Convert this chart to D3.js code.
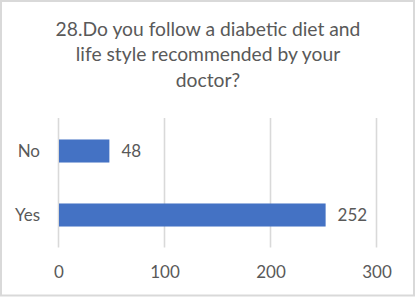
<!DOCTYPE html>
<html>
<head>
<meta charset="utf-8">
<script src="https://cdn.jsdelivr.net/npm/d3@7"></script>
<style>
  html, body { margin: 0; padding: 0; background: #fff; }
  svg { display: block; }
  text { font-family: Lato, "Open Sans", sans-serif; fill: #595959; }
</style>
</head>
<body>
<svg id="chart" width="415" height="297"></svg>
<script>
const categories = ["No", "Yes"];
const values = [48, 252];
const xTicks = [0, 100, 200, 300];
const titleLines = ["28.Do you follow a diabetic diet and", "life style recommended by your", "doctor?"];

const W = 415, H = 297;
const svg = d3.select("#chart");

svg.append("rect")
  .attr("x", 1).attr("y", 1).attr("width", W - 2).attr("height", H - 2.5)
  .attr("fill", "#fff").attr("stroke", "#d9d9d9").attr("stroke-width", 2);

// Title
const title = svg.append("text")
  .attr("text-anchor", "middle")
  .style("font-size", "18px");
titleLines.forEach((t, i) => {
  title.append("tspan").attr("x", W / 2 + 0.5).attr("y", 36 + i * 25.3).text(t);
});
const firstLen = title.select("tspan").node().getComputedTextLength();
const fs = 18 * 305 / firstLen;
title.style("font-size", fs + "px");

const x = d3.scaleLinear().domain([0, 300]).range([58.5, 376.5]);
const y = d3.scaleBand().domain(categories).range([119, 247]).paddingInner(0.64).paddingOuter(0.32);

// Gridlines
svg.append("g").selectAll("line").data(xTicks).join("line")
  .attr("x1", d => x(d)).attr("x2", d => x(d))
  .attr("y1", 118).attr("y2", 247.5)
  .attr("stroke", "#d9d9d9").attr("stroke-width", 1.6);

// Bars
svg.append("g").selectAll("rect").data(values).join("rect")
  .attr("x", x(0) + 0.5)
  .attr("y", (d, i) => y(categories[i]))
  .attr("width", d => x(d) - x(0) - 0.5)
  .attr("height", y.bandwidth())
  .attr("fill", "#4472C4");

// Value labels
svg.append("g").selectAll("text").data(values).join("text")
  .attr("x", d => x(d) + 12)
  .attr("y", (d, i) => y(categories[i]) + y.bandwidth() / 2)
  .attr("dy", "0.35em")
  .style("font-size", "17px")
  .text(d => d);

// Category labels
svg.append("g").selectAll("text").data(categories).join("text")
  .attr("x", 40)
  .attr("y", d => y(d) + y.bandwidth() / 2)
  .attr("dy", "0.35em")
  .attr("text-anchor", "end")
  .style("font-size", "17px")
  .text(d => d);

// X tick labels
const xAxis = d3.axisBottom(x).tickValues(xTicks).tickSize(0).tickPadding(0);
const gx = svg.append("g").attr("transform", "translate(0,266)").call(xAxis);
gx.select(".domain").remove();
gx.selectAll("text").style("font-size", "17px").style("fill", "#595959")
  .attr("font-family", null);
</script>
</body>
</html>
